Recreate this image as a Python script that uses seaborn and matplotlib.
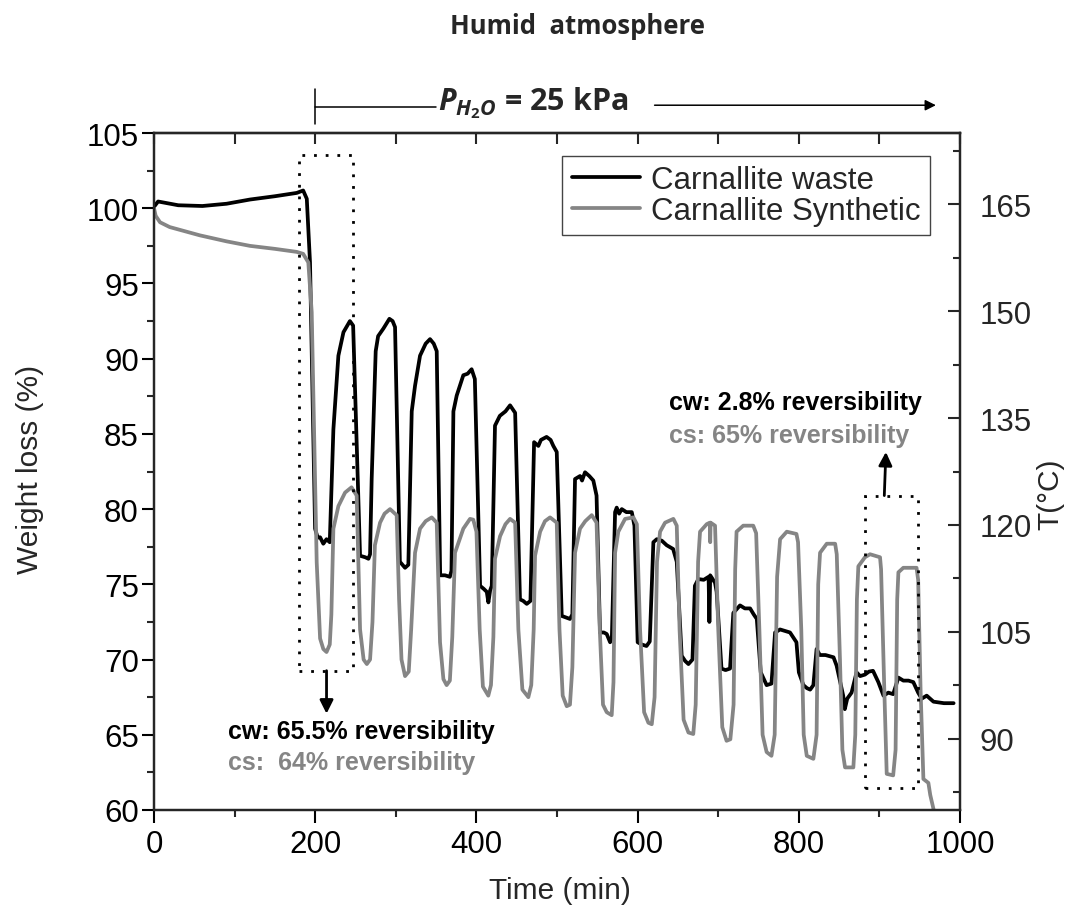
import matplotlib
matplotlib.use("Agg")
import matplotlib.pyplot as plt
import pandas as pd
import seaborn as sns
from matplotlib.ticker import MultipleLocator, FixedLocator
from matplotlib.patches import Rectangle

# ---------------- data ----------------
series_names = ["Carnallite waste", "Carnallite Synthetic"]

cw_points = [
    (0, 100.1), (5, 100.45), (30, 100.2), (60, 100.15), (90, 100.3), (119, 100.58),
    (150, 100.8), (177, 101.02), (185, 101.18), (189.5, 100.63), (193.5, 96.4), (199.8, 78.7),
    (203, 78.1), (206, 78.13), (210, 77.7), (214, 78.0), (218, 77.8),
    (222.5, 85.3), (228.7, 90.2), (235, 91.76), (243, 92.5), (247, 92.2),
    (255.6, 76.9), (262, 76.8), (266, 76.7), (268, 77.0),
    (270, 82.0), (275, 90.5), (278, 91.5), (284.5, 92.0), (292, 92.65), (296, 92.5), (299, 92.1),
    (305, 76.5), (311.4, 76.1), (315.5, 76.3),
    (319.7, 86.5), (323.8, 88.2), (330, 90.2), (337, 91.0), (342.4, 91.3), (347, 91.0), (350.7, 90.5),
    (355, 75.6), (361, 75.6), (367, 75.5), (369, 75.9),
    (371.4, 86.5), (375.5, 87.55), (383.7, 88.9), (389, 89.0), (394, 89.3), (398, 88.65),
    (404.5, 74.9), (409, 74.7), (412.8, 74.5), (414.8, 73.8), (417, 74.6), (419, 74.9),
    (423, 85.55), (429, 86.2), (436, 86.5), (441.7, 86.9), (448, 86.4),
    (454, 74.0), (458, 73.9), (462.4, 73.7), (467, 73.9),
    (471.5, 84.45), (476.8, 84.2), (480, 84.6), (487, 84.8), (492, 84.6), (495.4, 84.2), (499.6, 83.8),
    (505.8, 72.9), (511, 72.8), (516, 72.7), (519, 73.0),
    (522.3, 82.0), (528.5, 82.2), (531, 81.9), (534.7, 82.45), (540, 82.2), (545, 81.9), (549, 80.9),
    (553.3, 71.8), (558, 71.8), (561.6, 71.7), (565.8, 71.15), (568, 71.5),
    (572, 79.8), (574, 80.1), (577, 79.7), (580.3, 80.0), (586, 79.8), (592.7, 79.8), (596, 78.9),
    (600, 71.15), (605, 71.0), (611, 70.9), (615, 71.2),
    (619.5, 77.8), (623.7, 78.0), (630, 77.9), (636, 77.6), (644, 77.35), (648.5, 76.5),
    (654.6, 70.25), (659, 69.9), (663, 69.7), (668, 70.0),
    (671, 74.9), (675.3, 75.35), (682, 75.3), (688, 75.5), (689, 72.5), (690, 75.6), (696, 75.1), (698, 74.5),
    (704, 69.4), (709, 69.3), (714.6, 69.4),
    (718.7, 73.1), (727, 73.6), (733, 73.4), (739.5, 73.4), (744, 73.0), (747.8, 72.7),
    (752.7, 69.15), (760, 68.3), (766, 68.4),
    (770.5, 71.8), (776.7, 72.0), (783, 71.9), (789, 71.8), (797, 71.15),
    (800, 69.15), (805.6, 68.3), (810, 68.1), (814, 68.0), (818, 68.3),
    (822, 70.7), (826, 70.3), (833, 70.3), (840, 70.2), (843, 70.15), (846.8, 69.6),
    (855, 67.6), (857, 66.7), (860, 67.4), (865.4, 67.8),
    (871.6, 69.15), (876, 68.9), (882, 69.0), (887, 69.2), (892, 69.25), (898.6, 68.5),
    (905, 67.6), (911, 67.8), (917, 67.7),
    (923.5, 68.8), (929.6, 68.6), (936, 68.6), (942, 68.5), (948, 67.8), (952.4, 67.4),
    (958.6, 67.6), (967, 67.2), (980, 67.1), (992, 67.1),
]

cs_points = [
    (0, 100.0), (2, 99.5), (7.4, 99.07), (19.4, 98.75), (56.8, 98.2), (90, 97.8), (119, 97.5),
    (150, 97.3), (177, 97.1), (185, 96.97), (191.4, 96.4), (195.6, 93.1), (201.8, 76.46),
    (206, 71.4), (210, 70.7), (214, 70.5), (218, 71.0), (220, 73.0),
    (222.5, 78.7), (228.7, 80.2), (237, 81.1), (245, 81.45), (251.4, 80.9),
    (255.6, 72.0), (260, 70.0), (264, 69.7), (268, 70.0), (271, 72.5),
    (274, 77.6), (280.4, 79.1), (286, 79.7), (292.8, 80.0), (301, 79.6),
    (304, 74.0), (307, 70.0), (311.4, 68.9), (316, 69.2), (319, 72.0),
    (323.8, 77.1), (330, 78.7), (337, 79.2), (344.5, 79.45), (350.7, 79.1),
    (354.8, 71.15), (359, 68.7), (363, 68.3), (367, 68.6), (370, 71.5),
    (373.4, 77.1), (383.7, 78.7), (392, 79.35), (396, 79.3), (400, 78.5),
    (404, 72.0), (408, 68.2), (414.7, 67.6), (418, 68.3), (421, 71.5),
    (423, 76.7), (429.3, 78.2), (436, 79.0), (441.7, 79.35), (448, 79.1),
    (452, 72.0), (457, 68.0), (464.4, 67.5), (468, 68.3), (471, 72.0),
    (472.7, 76.9), (479, 78.5), (485, 79.2), (491.3, 79.45), (499.6, 79.1),
    (503, 72.0), (507, 67.6), (512, 66.9), (516, 67.0), (519, 69.5),
    (522.3, 77.1), (528.5, 78.7), (535, 79.2), (543, 79.6), (549, 79.1),
    (553, 72.0), (557, 67.0), (561.6, 66.5), (567.8, 66.3), (570, 68.5),
    (572, 77.1), (576, 78.5), (584.4, 79.35), (594.7, 79.45), (599, 79.0),
    (603, 72.0), (608, 66.5), (613.3, 65.8), (617.5, 65.7), (621, 67.5),
    (624, 76.5), (627.8, 78.5), (634, 79.1), (644.3, 79.35), (648.5, 78.9),
    (652, 72.0), (657, 66.0), (663, 65.15), (669, 65.05), (672, 67.0),
    (675, 76.5), (677.4, 78.5), (685.7, 79.0), (689.5, 79.1), (690, 77.8), (690.5, 79.1), (696, 78.9),
    (700, 72.0), (705, 65.5), (710.3, 64.6), (715, 64.7), (719, 67.0),
    (721, 76.0), (722.7, 78.5), (731, 78.9), (743.4, 78.9), (747, 78.4),
    (751, 72.0), (755, 65.0), (760, 63.85), (766, 63.6), (770, 65.0),
    (773, 75.5), (776.7, 78.0), (785, 78.5), (797, 78.35), (799, 77.8),
    (803, 72.0), (806, 65.0), (809.8, 63.6), (818, 63.4), (822, 65.0),
    (824, 75.0), (826.3, 77.1), (834.6, 77.7), (845, 77.7), (847, 77.0),
    (851, 70.0), (854, 64.0), (857.3, 62.83), (867.6, 62.83), (870, 65.0),
    (872, 74.0), (873.8, 76.2), (882, 76.8), (888.3, 77.0), (900.7, 76.8), (902, 76.0),
    (906, 68.0), (909, 62.4), (917, 62.3), (920, 64.0),
    (922, 74.0), (923.5, 75.8), (929.6, 76.1), (946, 76.1), (948, 75.3),
    (951, 68.0), (954.5, 62.06), (960.7, 61.8), (963, 61.0), (967, 60.07), (970, 58.5),
]

x_ticks = [0, 200, 400, 600, 800, 1000]
w_ticks = [60, 65, 70, 75, 80, 85, 90, 95, 100, 105]
t_ticks = [90, 105, 120, 135, 150, 165]

# ---------------- build table ----------------
cw_time = [p[0] for p in cw_points]
cw_weight = [p[1] for p in cw_points]
cs_time = [p[0] for p in cs_points]
cs_weight = [p[1] for p in cs_points]

df = pd.concat([
    pd.DataFrame({"time": cw_time, "weight": cw_weight, "sample": series_names[0]}),
    pd.DataFrame({"time": cs_time, "weight": cs_weight, "sample": series_names[1]}),
], ignore_index=True)

# ---------------- style ----------------
sns.set_style("ticks")
plt.rcParams["font.family"] = ["Liberation Sans", "DejaVu Sans"]
plt.rcParams["mathtext.fontset"] = "custom"
plt.rcParams["mathtext.it"] = "Open Sans:italic:bold"
plt.rcParams["mathtext.rm"] = "Open Sans:bold"
plt.rcParams["mathtext.bf"] = "Open Sans:bold"

fig = plt.figure(figsize=(10.78, 9.2), dpi=100)
ax = fig.add_axes([0.1429, 0.1185, 0.7477, 0.7358])

LW = 2.7
palette = {series_names[0]: "#000000", series_names[1]: "#858585"}
sns.lineplot(data=df, x="time", y="weight", hue="sample", hue_order=series_names,
             palette=palette, estimator=None, sort=False, units="sample",
             linewidth=LW, ax=ax, legend=True)

ax.set_xlim(0, 1000)
ax.set_ylim(60, 105)

for s in ax.spines.values():
    s.set_linewidth(1.6)
    s.set_color("black")

TICK_FS = 22.5
LABEL_FS = 21.5

ax.xaxis.set_major_locator(FixedLocator(x_ticks))
ax.xaxis.set_minor_locator(MultipleLocator(100))
ax.yaxis.set_major_locator(FixedLocator(w_ticks))
ax.yaxis.set_minor_locator(MultipleLocator(2.5))
ax.tick_params(axis="both", which="major", direction="out", length=9, width=1.5,
               labelsize=TICK_FS, colors="black")
ax.tick_params(axis="both", which="minor", direction="out", length=5, width=1.5)
ax.tick_params(axis="x", which="major", pad=5)
ax.tick_params(axis="y", which="major", pad=2)

# top mirrored ticks pointing into plot
secx = ax.secondary_xaxis("top")
secx.xaxis.set_major_locator(MultipleLocator(100))
secx.tick_params(direction="in", length=8, width=1.5, labeltop=False)
secx.spines["top"].set_linewidth(1.6)

# right temperature axis
ax2 = ax.twinx()
ax2.set_ylim(80, 175)
ax2.yaxis.set_major_locator(FixedLocator(t_ticks))
ax2.yaxis.set_minor_locator(FixedLocator([82.5, 97.5, 112.5, 127.5, 142.5, 157.5, 172.5]))
ax2.tick_params(axis="y", which="major", direction="in", length=9, width=1.5,
                labelsize=TICK_FS, pad=14)
ax2.tick_params(axis="y", which="minor", direction="in", length=5, width=1.5)
for s in ax2.spines.values():
    s.set_linewidth(1.6)
ax2.set_ylabel("T(°C)", fontsize=LABEL_FS)
ax2.yaxis.set_label_coords(1.095, 0.468)

ax.set_xlabel("Time (min)", fontsize=LABEL_FS)
ax.set_ylabel("Weight loss (%)", fontsize=LABEL_FS)
ax.xaxis.set_label_coords(0.504, -0.097)
ax.yaxis.set_label_coords(-0.137, 0.504)

# legend
handles, labels = ax.get_legend_handles_labels()
for h in handles:
    h.set_linewidth(LW)
leg = ax.legend(handles, labels, loc="upper right", bbox_to_anchor=(0.963, 0.966),
                borderaxespad=0, frameon=True, fancybox=False, edgecolor="#444444",
                framealpha=1, fontsize=22.5, handlelength=2.2, handletextpad=0.35,
                labelspacing=0.02, borderpad=0.3)
leg.get_frame().set_linewidth(1.0)

# dotted boxes and arrows
dot = (0, (1, 3.2))
ax.add_patch(Rectangle((180, 69.26), 67.3, 34.3, fill=False, lw=2.0, ls=dot,
                       edgecolor="black", zorder=5))
ax.add_patch(Rectangle((882, 61.44), 66.3, 19.46, fill=False, lw=2.0, ls=dot,
                       edgecolor="black", zorder=5))
ax.annotate("", xy=(214, 66.4), xytext=(214, 69.26),
            arrowprops=dict(arrowstyle="-|>", color="black", lw=2.0,
                            mutation_scale=20, shrinkA=0, shrinkB=0))
ax.annotate("", xy=(908, 83.8), xytext=(906, 80.9),
            arrowprops=dict(arrowstyle="-|>", color="black", lw=2.0,
                            mutation_scale=20, shrinkA=0, shrinkB=0))

# reversibility texts
ANN_FS = 18
ax.text(92, 65.25, "cw: 65.5% reversibility", fontsize=ANN_FS, fontweight="bold",
        color="black", ha="left", va="center")
ax.text(92, 63.2, "cs:  64% reversibility", fontsize=ANN_FS, fontweight="bold",
        color="#858585", ha="left", va="center")
ax.text(639, 87.1, "cw: 2.8% reversibility", fontsize=ANN_FS, fontweight="bold",
        color="black", ha="left", va="center")
ax.text(639, 84.9, "cs: 65% reversibility", fontsize=ANN_FS, fontweight="bold",
        color="#858585", ha="left", va="center")

# humid atmosphere annotation above plot
ax.plot([200, 200], [105.6, 107.9], color="black", lw=1.1, clip_on=False)
ax.plot([200, 350], [106.7, 106.7], color="black", lw=1.1, clip_on=False)
ax.annotate("", xy=(970, 106.85), xytext=(621, 106.85), annotation_clip=False,
            arrowprops=dict(arrowstyle="-|>", color="black", lw=1.1,
                            mutation_scale=16, shrinkA=0, shrinkB=0))
ax.text(352, 106.6, r"$P_{H_2O}$ = 25 kPa", fontsize=22, fontweight="bold",
        family="Open Sans", ha="left", va="baseline", clip_on=False)
fig.text(578 / 1078, 1 - 27 / 920, "Humid  atmosphere", fontsize=18.5,
         fontweight="bold", family="Open Sans", ha="center", va="center")

ax.set_xlim(0, 1000)
ax.set_ylim(60, 105)

fig.savefig("out.png", dpi=100)
